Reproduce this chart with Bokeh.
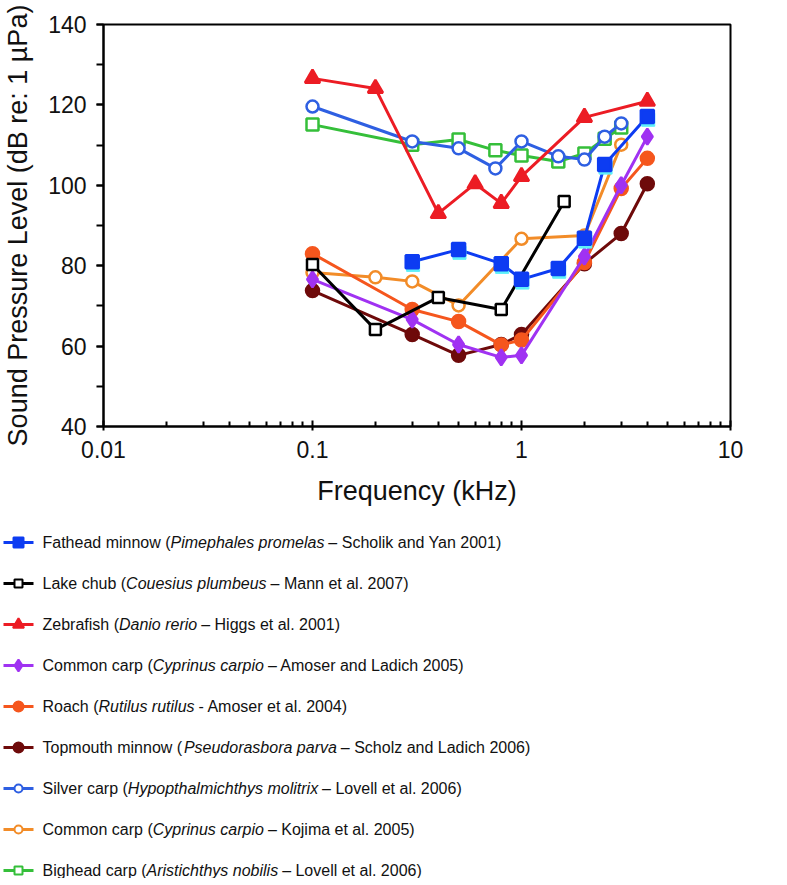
from bokeh.plotting import figure
from bokeh.layouts import column
from bokeh.models import Range1d, FixedTicker, SingleIntervalTicker, CustomJSTickFormatter
from bokeh.core.properties import value
from bokeh.embed import file_html
from bokeh.resources import INLINE

# ---------------- data (kHz, dB re 1 uPa) ----------------
fathead_f = [0.3, 0.5, 0.8, 1.0, 1.5, 2.0, 2.5, 4.0]
fathead_db = [81.0, 84.0, 80.5, 76.6, 79.3, 86.8, 105.2, 117.1]

lake_f = [0.1, 0.2, 0.4, 0.8, 1.6]
lake_db = [80.3, 64.1, 72.1, 69.1, 96.0]

zebra_f = [0.1, 0.2, 0.4, 0.6, 0.8, 1.0, 2.0, 4.0]
zebra_db = [126.6, 124.1, 93.0, 100.4, 95.5, 102.2, 116.9, 120.9]

carp1_f = [0.1, 0.3, 0.5, 0.8, 1.0, 2.0, 3.0, 4.0]
carp1_db = [76.6, 66.6, 60.4, 57.2, 57.7, 82.3, 100.0, 112.1]

roach_f = [0.1, 0.3, 0.5, 0.8, 1.0, 2.0, 3.0, 4.0]
roach_db = [83.0, 69.1, 66.1, 60.3, 61.5, 80.8, 99.2, 106.7]

topmouth_f = [0.1, 0.3, 0.5, 0.8, 1.0, 2.0, 3.0, 4.0]
topmouth_db = [73.8, 62.9, 57.7, 60.4, 62.9, 80.5, 88.0, 100.4]

silver_f = [0.1, 0.3, 0.5, 0.75, 1.0, 1.5, 2.0, 2.5, 3.0]
silver_db = [119.6, 110.9, 109.2, 104.2, 110.9, 107.2, 106.4, 112.1, 115.4]

kojima_f = [0.1, 0.2, 0.3, 0.5, 1.0, 2.0, 3.0]
kojima_db = [78.3, 77.1, 76.1, 70.1, 86.7, 87.5, 110.1]

bighead_f = [0.1, 0.3, 0.5, 0.75, 1.0, 1.5, 2.0, 2.5, 3.0]
bighead_db = [115.1, 110.1, 111.4, 108.7, 107.4, 105.9, 107.9, 111.6, 114.4]

x_ticks = [0.01, 0.1, 1, 10]
y_tick_step = 20

label_prefix = ["Fathead minnow (", "Lake chub (", "Zebrafish (", "Common carp (", "Roach (",
                "Topmouth minnow (", "Silver carp (", "Common carp (", "Bighead carp ("]
label_species = ["Pimephales promelas", "Couesius plumbeus", "Danio rerio", "Cyprinus carpio",
                 "Rutilus rutilus", "Pseudorasbora parva", "Hypopthalmichthys molitrix",
                 "Cyprinus carpio", "Aristichthys nobilis"]
label_suffix = [" \u2013 Scholik and Yan 2001)", " \u2013 Mann et al. 2007)", " \u2013 Higgs et al. 2001)",
                " \u2013 Amoser and Ladich 2005)", " - Amoser et al. 2004)", " \u2013 Scholz and Ladich 2006)",
                " \u2013 Lovell et al. 2006)", " \u2013 Kojima et al. 2005)", " \u2013 Lovell et al. 2006)"]

# ---------------- styles ----------------
series = [
    dict(f=fathead_f, db=fathead_db, color="#0d3cf2", marker="square", fill="#0d3cf2", size=13, lsize=10, shadow="#5ef0fa"),
    dict(f=lake_f, db=lake_db, color="#000000", marker="square", fill="white", size=11, lsize=8),
    dict(f=zebra_f, db=zebra_db, color="#ec1c24", marker="triangle", fill="#ec1c24", size=15, lsize=11),
    dict(f=carp1_f, db=carp1_db, color="#a032f2", marker="diamond", fill="#a032f2", size=16, lsize=12),
    dict(f=roach_f, db=roach_db, color="#f5561d", marker="circle", fill="#f5561d", size=13, lsize=10),
    dict(f=topmouth_f, db=topmouth_db, color="#6e0a0a", marker="circle", fill="#6e0a0a", size=13, lsize=10),
    dict(f=silver_f, db=silver_db, color="#2e5fe2", marker="circle", fill="white", size=12, lsize=8),
    dict(f=kojima_f, db=kojima_db, color="#f28c28", marker="circle", fill="white", size=12, lsize=8),
    dict(f=bighead_f, db=bighead_db, color="#35bf3a", marker="square", fill="white", size=12, lsize=8),
]

FONT = "Liberation Sans"
W = 780

p = figure(width=W, height=518, x_axis_type="log",
           x_range=Range1d(0.01, 10), y_range=Range1d(40, 140),
           output_backend="svg", toolbar_location=None,
           min_border_left=101, min_border_right=50, min_border_top=24, min_border_bottom=92)
p.grid.visible = False
p.outline_line_color = "black"
p.outline_line_width = 2
p.outline_line_alpha = 1.0
p.background_fill_color = "white"
p.border_fill_color = "white"

minor = [m * t for t in x_ticks[:-1] for m in range(2, 10)]
p.xaxis.ticker = FixedTicker(ticks=x_ticks, minor_ticks=minor)
p.xaxis.formatter = CustomJSTickFormatter(code="return tick < 1 ? tick.toString() : tick.toFixed(0);")
p.yaxis.ticker = SingleIntervalTicker(interval=y_tick_step, num_minor_ticks=2)

for ax in (p.xaxis[0], p.yaxis[0]):
    ax.axis_line_width = 2
    ax.axis_line_color = "black"
    ax.major_tick_line_width = 2
    ax.minor_tick_line_width = 2
    ax.major_tick_line_color = "black"
    ax.minor_tick_line_color = "black"
    ax.major_label_text_font = FONT
    ax.major_label_text_font_size = "23px"
    ax.major_label_text_color = "#111111"
    ax.axis_label_text_font = FONT
    ax.axis_label_text_font_style = "normal"
    ax.axis_label_text_color = "#111111"

p.xaxis.major_tick_in = 6
p.xaxis.major_tick_out = 4
p.xaxis.minor_tick_in = 5
p.xaxis.minor_tick_out = 0
p.xaxis.major_label_standoff = 10
p.xaxis.axis_label = "Frequency (kHz)"
p.xaxis.axis_label_text_font_size = "27px"
p.xaxis.axis_label_standoff = 15

p.yaxis.major_tick_in = 0
p.yaxis.major_tick_out = 7
p.yaxis.minor_tick_in = 0
p.yaxis.minor_tick_out = 7
p.yaxis.major_label_standoff = 10
p.yaxis.axis_label = "Sound Pressure Level (dB re: 1 \u00b5Pa)"
p.yaxis.axis_label_text_font_size = "27px"
p.yaxis.axis_label_standoff = 12

for s in reversed(series):
    p.line(s["f"], s["db"], line_color=s["color"], line_width=3)
    if "shadow" in s:
        p.scatter([f * 1.01 for f in s["f"]], [d - 0.8 for d in s["db"]], marker=s["marker"],
                  size=s["size"], fill_color=s["shadow"], line_color=s["shadow"])
    p.scatter(s["f"], s["db"], marker=s["marker"], size=s["size"], fill_color=s["fill"],
              line_color=s["color"], line_width=2.5)

# ---------------- legend (separate panel, pixel coordinates) ----------------
LH = 360
lg = figure(frame_width=W, frame_height=LH, x_range=Range1d(0, W), y_range=Range1d(LH, 0),
            x_axis_type=None, y_axis_type=None, output_backend="svg", toolbar_location=None,
            min_border=0)
if hasattr(lg, "frame_align"):
    lg.frame_align = False
lg.grid.visible = False
lg.outline_line_color = None

ARIAL = {" ": 278, "(": 333, ")": 333, "-": 333, "\u2013": 556, ".": 278, ":": 278}
for ch in "0123456789":
    ARIAL[ch] = 556
ARIAL.update(dict(zip("abcdefghijklmnopqrstuvwxyz",
                      [556, 556, 500, 556, 556, 278, 556, 556, 222, 222, 500, 222, 833,
                       556, 556, 556, 556, 333, 500, 278, 556, 500, 722, 500, 500, 500])))
ARIAL.update(dict(zip("ABCDEFGHIJKLMNOPQRSTUVWXYZ",
                      [667, 667, 722, 722, 667, 611, 778, 722, 278, 500, 667, 556, 833,
                       722, 778, 667, 778, 722, 667, 611, 722, 667, 944, 667, 667, 611])))

LFS = 16.0
def tw(s):
    return sum(ARIAL.get(c, 556) for c in s) * LFS / 1000.0

row0, dy = 24, 41
tx0 = 42
nx, ny, nt, ix, iy, it = [], [], [], [], [], []
for i, s in enumerate(series):
    y = row0 + i * dy
    lg.line([3, 33], [y, y], line_color=s["color"], line_width=3)
    lg.scatter([18], [y], marker=s["marker"], size=s["lsize"], fill_color=s["fill"],
               line_color=s["color"], line_width=2)
    x = tx0
    nx.append(x); ny.append(y); nt.append(label_prefix[i])
    x += tw(label_prefix[i])
    ix.append(x); iy.append(y); it.append(label_species[i])
    x += tw(label_species[i]) + 4
    nx.append(x); ny.append(y); nt.append(label_suffix[i])

lg.text(nx, ny, text=nt, text_font=value(FONT), text_font_size=f"{LFS}px",
        text_baseline="middle", text_color="#111111")
lg.text(ix, iy, text=it, text_font=value(FONT), text_font_size=f"{LFS}px",
        text_font_style="italic", text_baseline="middle", text_color="#111111")

layout = column(p, lg, spacing=0)
open("out.html", "w").write(file_html(layout, INLINE))
